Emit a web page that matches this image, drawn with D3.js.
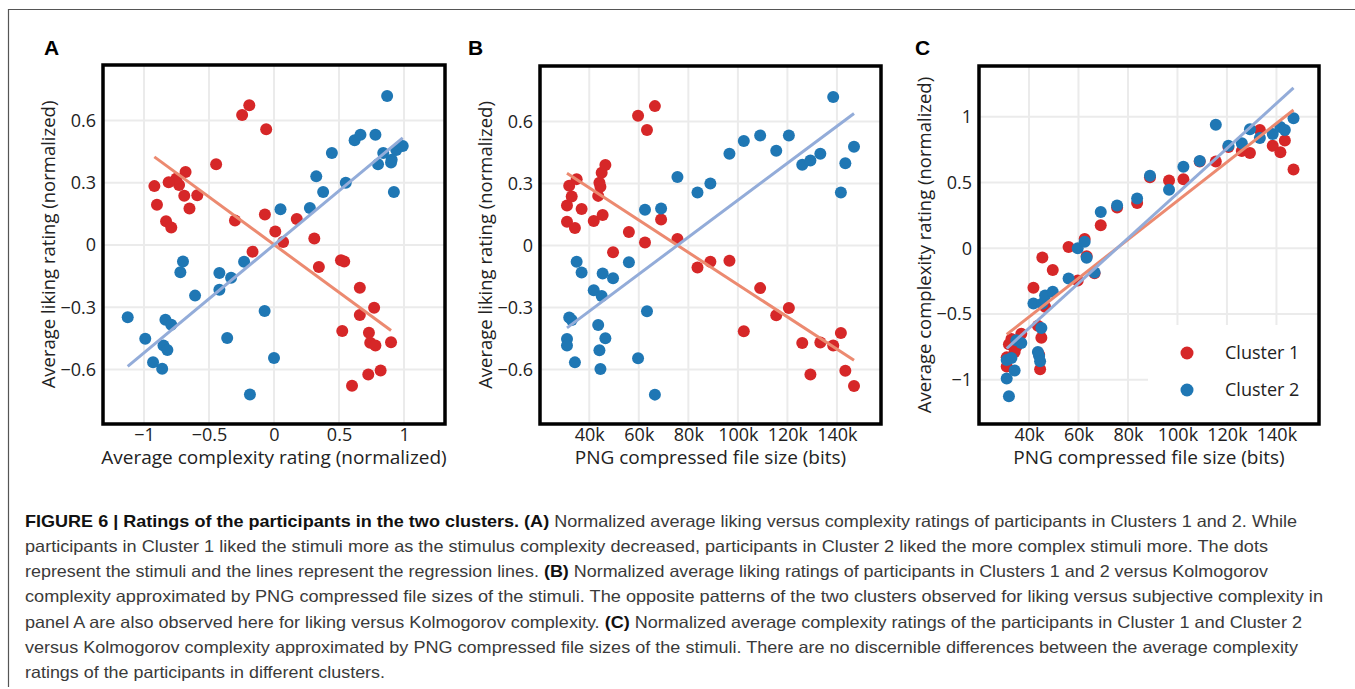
<!DOCTYPE html>
<html>
<head>
<meta charset="utf-8">
<script src="https://cdn.jsdelivr.net/npm/d3@7"></script>
<style>
  body { margin: 0; background: #fff; }
  svg { display: block; }
  .tick text { font-family: "Open Sans", sans-serif; font-size: 18px; fill: #222; }
</style>
</head>
<body>
<div id="chart"></div>
<script>
// one entry per stimulus, sorted by PNG file size
const fileSize = [31000, 31000, 31900, 32900, 34200, 34900, 36900, 41800, 43600, 44100, 44500, 45000,
  45400, 46500, 49600, 56000, 59700, 62500, 63300, 66500, 69000, 75600, 83700, 88900,
  96600, 102400, 109000, 115500, 120600, 126000, 129300, 133300, 138500, 141600, 143400, 146900];
const liking1 = [0.194, 0.115, 0.289, 0.237, 0.085, 0.321, 0.176, 0.118, 0.240, 0.303, 0.284, 0.352,
  0.147, 0.389, -0.032, 0.065, 0.627, 0.015, 0.558, 0.674, 0.126, 0.031, -0.106, -0.079,
  -0.074, -0.415, -0.206, -0.337, -0.302, -0.471, -0.624, -0.469, -0.484, -0.423, -0.605, -0.679];
const liking2 = [-0.452, -0.484, -0.348, -0.360, -0.565, -0.079, -0.131, -0.216, -0.384, -0.506, -0.597, -0.244,
  -0.135, -0.448, -0.158, -0.081, -0.545, 0.173, -0.318, -0.721, 0.179, 0.331, 0.256, 0.300,
  0.444, 0.505, 0.532, 0.458, 0.532, 0.390, 0.411, 0.444, 0.718, 0.256, 0.398, 0.477];
const complexity1 = [-0.90, -0.83, -0.73, -0.69, -0.79, -0.75, -0.65, -0.30, -0.59, -0.81, -0.92, -0.68,
  -0.07, -0.445, -0.165, 0.01, -0.245, 0.07, -0.06, -0.19, 0.175, 0.31, 0.345, 0.54,
  0.515, 0.525, 0.66, 0.66, 0.77, 0.74, 0.725, 0.90, 0.78, 0.73, 0.82, 0.60];
const complexity2 = [-0.99, -0.85, -1.125, -0.835, -0.93, -0.70, -0.72, -0.42, -0.79, -0.82, -0.86, -0.607,
  -0.42, -0.36, -0.33, -0.23, 0.0, 0.05, -0.072, -0.185, 0.276, 0.325, 0.378, 0.552,
  0.445, 0.62, 0.665, 0.94, 0.78, 0.80, 0.905, 0.84, 0.87, 0.922, 0.90, 0.99];

const likingTicks = [-0.6, -0.3, 0, 0.3, 0.6];
const complexityTicks = [-1, -0.5, 0, 0.5, 1];
const sizeTicks = [40000, 60000, 80000, 100000, 120000, 140000];
const clusterNames = ["Cluster 1", "Cluster 2"];

const captionLines = [
  [["FIGURE 6 | Ratings of the participants in the two clusters. (A)", true], [" Normalized average liking versus complexity ratings of participants in Clusters 1 and 2. While", false]],
  [["participants in Cluster 1 liked the stimuli more as the stimulus complexity decreased, participants in Cluster 2 liked the more complex stimuli more. The dots", false]],
  [["represent the stimuli and the lines represent the regression lines. ", false], ["(B)", true], [" Normalized average liking ratings of participants in Clusters 1 and 2 versus Kolmogorov", false]],
  [["complexity approximated by PNG compressed file sizes of the stimuli. The opposite patterns of the two clusters observed for liking versus subjective complexity in", false]],
  [["panel A are also observed here for liking versus Kolmogorov complexity. ", false], ["(C)", true], [" Normalized average complexity ratings of the participants in Cluster 1 and Cluster 2", false]],
  [["versus Kolmogorov complexity approximated by PNG compressed file sizes of the stimuli. There are no discernible differences between the average complexity", false]],
  [["ratings of the participants in different clusters.", false]]
];
const captionWidths = [1272, 1243, 1243, 1298, 1277, 1273, 360];

const dotColors = ["#d62728", "#1f77b4"];
const lineColors = ["#ec8a70", "#93acd9"];

const width = 1355, height = 689;
const svg = d3.select("#chart").append("svg").attr("width", width).attr("height", height);

// figure border (top + left rule)
svg.append("path")
  .attr("d", "M8.5,687 V9.5 H1355")
  .attr("fill", "none").attr("stroke", "#555").attr("stroke-width", 1.2);

const minus = (s) => s.replace("-", "\u2212");
const fmtNum = (d) => minus(String(d));
const fmtK = (d) => d / 1000 + "k";

function fitLine(xs, ys) {
  const mx = d3.mean(xs), my = d3.mean(ys);
  const sxy = d3.sum(xs, (x, i) => (x - mx) * (ys[i] - my));
  const sxx = d3.sum(xs, (x) => (x - mx) * (x - mx));
  const b = sxy / sxx, a = my - b * mx;
  const [x0, x1] = d3.extent(xs);
  return [[x0, a + b * x0], [x1, a + b * x1]];
}

function panel({ label, box, xDomain, yDomain, xTicks, yTicks, xFmt, yFmt, xs, ys, xTitle, yTitle, legend }) {
  const x = d3.scaleLinear().domain(xDomain).range([box.left, box.right]);
  const y = d3.scaleLinear().domain(yDomain).range([box.bottom, box.top]);
  const g = svg.append("g");

  // grid
  g.append("g").selectAll("line").data(xTicks).join("line")
    .attr("x1", (d) => x(d)).attr("x2", (d) => x(d))
    .attr("y1", box.top).attr("y2", box.bottom)
    .attr("stroke", "#ebebeb").attr("stroke-width", 2);
  g.append("g").selectAll("line").data(yTicks).join("line")
    .attr("x1", box.left).attr("x2", box.right)
    .attr("y1", (d) => y(d)).attr("y2", (d) => y(d))
    .attr("stroke", "#ebebeb").attr("stroke-width", 2);

  // axes, labels only
  const xAxis = d3.axisBottom(x).tickValues(xTicks).tickFormat(xFmt).tickSize(0).tickPadding(4);
  const yAxis = d3.axisLeft(y).tickValues(yTicks).tickFormat(yFmt).tickSize(0).tickPadding(7);
  g.append("g").attr("transform", `translate(0,${box.bottom})`).call(xAxis)
    .call((s) => s.select(".domain").remove());
  g.append("g").attr("transform", `translate(${box.left},0)`).call(yAxis)
    .call((s) => s.select(".domain").remove());

  // dots
  [0, 1].forEach((c) => {
    g.append("g").selectAll("circle").data(xs[c].map((v, i) => [v, ys[c][i]])).join("circle")
      .attr("cx", (d) => x(d[0])).attr("cy", (d) => y(d[1])).attr("r", 6)
      .attr("fill", dotColors[c]);
  });

  // regression lines
  [0, 1].forEach((c) => {
    g.append("path").datum(fitLine(xs[c], ys[c]))
      .attr("d", d3.line().x((d) => x(d[0])).y((d) => y(d[1])))
      .attr("stroke", lineColors[c]).attr("stroke-width", 3).attr("fill", "none");
  });

  if (legend) {
    g.append("rect").attr("x", 1148).attr("y", 325)
      .attr("width", box.right - 1148 - 2).attr("height", box.bottom - 325 - 2).attr("fill", "#fff");
    clusterNames.forEach((name, c) => {
      const ly = 353 + c * 37;
      g.append("circle").attr("cx", 1187).attr("cy", ly).attr("r", 6.5).attr("fill", dotColors[c]);
      g.append("text").attr("x", 1225).attr("y", ly).attr("dy", "0.35em")
        .attr("font-family", "Open Sans, sans-serif").attr("font-size", 18).attr("fill", "#222")
        .text(name);
    });
  }

  // frame
  g.append("rect").attr("x", box.left).attr("y", box.top)
    .attr("width", box.right - box.left).attr("height", box.bottom - box.top)
    .attr("fill", "none").attr("stroke", "#000").attr("stroke-width", 3.5);

  g.append("text").attr("x", (box.left + box.right) / 2).attr("y", 464)
    .attr("text-anchor", "middle").attr("font-family", "Open Sans, sans-serif")
    .attr("font-size", 19).attr("fill", "#222").text(xTitle);
  g.append("text").attr("transform", `translate(${box.left - 48},${(box.top + box.bottom) / 2}) rotate(-90)`)
    .attr("text-anchor", "middle").attr("font-family", "Open Sans, sans-serif")
    .attr("font-size", 18.5).attr("fill", "#222").text(yTitle);

  svg.append("text").attr("x", label.x).attr("y", 54.5)
    .attr("font-family", "Liberation Sans, Arial, sans-serif").attr("font-weight", "bold")
    .attr("font-size", 21).attr("fill", "#000").text(label.t);
}

panel({
  label: { t: "A", x: 44 },
  box: { left: 103, right: 445, top: 65, bottom: 424 },
  xDomain: [-1.315, 1.315], yDomain: [-0.863, 0.868],
  xTicks: complexityTicks, yTicks: likingTicks, xFmt: fmtNum, yFmt: fmtNum,
  xs: [complexity1, complexity2], ys: [liking1, liking2],
  xTitle: "Average complexity rating (normalized)", yTitle: "Average liking rating (normalized)"
});
panel({
  label: { t: "B", x: 468 },
  box: { left: 540, right: 881, top: 66, bottom: 424 },
  xDomain: [20100, 157800], yDomain: [-0.863, 0.868],
  xTicks: sizeTicks, yTicks: likingTicks, xFmt: fmtK, yFmt: fmtNum,
  xs: [fileSize, fileSize], ys: [liking1, liking2],
  xTitle: "PNG compressed file size (bits)", yTitle: "Average liking rating (normalized)"
});
panel({
  label: { t: "C", x: 915 },
  box: { left: 979, right: 1319, top: 66, bottom: 424 },
  xDomain: [19800, 157200], yDomain: [-1.337, 1.387],
  xTicks: sizeTicks, yTicks: complexityTicks, xFmt: fmtK, yFmt: fmtNum,
  xs: [fileSize, fileSize], ys: [complexity1, complexity2],
  xTitle: "PNG compressed file size (bits)", yTitle: "Average complexity rating (normalized)",
  legend: true
});

// caption
const cap = svg.append("g").attr("font-family", "Liberation Sans, Arial, sans-serif").attr("font-size", 16.5);
captionLines.forEach((parts, i) => {
  const t = cap.append("text").attr("x", 25).attr("y", 526.5 + i * 25.3)
    .attr("textLength", captionWidths[i]).attr("lengthAdjust", "spacingAndGlyphs");
  parts.forEach(([s, bold]) => {
    t.append("tspan").attr("font-weight", bold ? "bold" : "normal")
      .attr("fill", bold ? "#111" : "#3a3a3a").text(s);
  });
});
</script>
</body>
</html>
